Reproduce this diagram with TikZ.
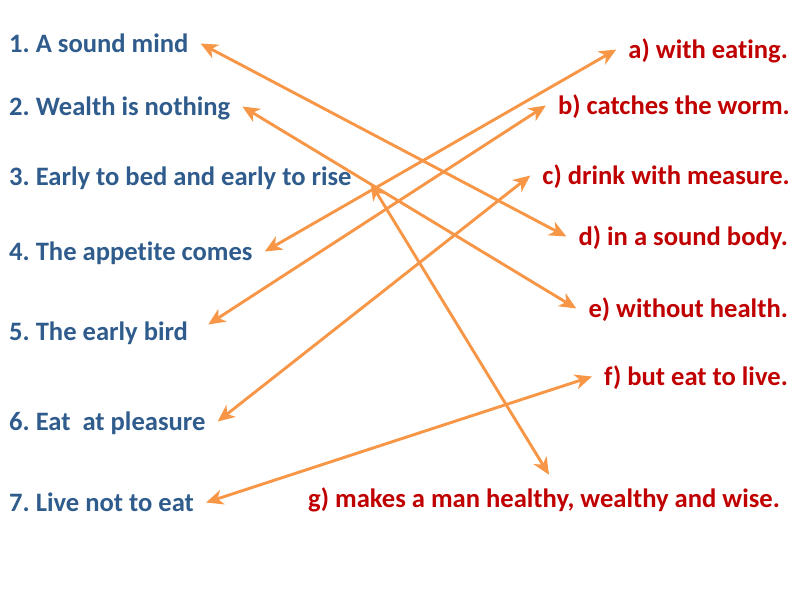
\documentclass[tikz,border=0pt]{standalone}
\usepackage{fontspec}
\setmainfont{Carlito}[Ligatures=NoCommon]
\usetikzlibrary{arrows.meta}
\definecolor{stemblue}{RGB}{47,92,140}
\definecolor{endred}{RGB}{192,0,0}
\definecolor{linkorange}{RGB}{247,150,70}
\frenchspacing

\begin{document}
\begin{tikzpicture}[x=1pt,y=-1pt,
  item/.style={font=\bfseries\fontsize{26.6}{30}\selectfont,inner xsep=12pt,
               inner ysep=0pt,text height=17pt,text depth=0pt},
  stem/.style={item,anchor=base west,text=stemblue},
  ending/.style={item,anchor=base east,text=endred},
  link/.style={draw=linkorange,line width=2.9pt,
               {Stealth[length=17pt,width=15pt,inset=5pt]}-{Stealth[length=17pt,width=15pt,inset=5pt]}}]

\useasboundingbox (0,0) rectangle (800,600);

% ------------- beginnings -------------
\node[stem] (l1) at (-3,52)  {1. A sound mind};
\node[stem] (l2) at (-3,115) {2. Wealth is nothing};
\node[stem] (l3) at (-3,185) {3. Early to bed and early to rise};
\node[stem] (l4) at (-3,260) {4. The appetite comes};
\node[stem] (l5) at (-3,340) {5. The early bird};
\node[stem] (l6) at (-3,430) {6. Eat\ \ at pleasure};
\node[stem] (l7) at (-3,511) {7. Live not to eat};

% ------------- endings -------------
\node[ending] (ra) at (800,58)  {a) with eating.};
\node[ending] (rb) at (802,114) {b) catches the worm.};
\node[ending] (rc) at (802,184) {c) drink with measure.};
\node[ending] (rd) at (800,245) {d) in a sound body.};
\node[ending] (re) at (800,317) {e) without health.};
\node[ending] (rf) at (800,385) {f) but eat to live.};
\node[ending] (rg) at (792,507) {g) makes a man healthy, wealthy and wise.};

% ------------- matches -------------
\draw[link] (l1.east) -- (rd.west);
\draw[link] (l2.east) -- (re.west);
\draw[link] ([shift={(7pt,2pt)}]l3.base east) -- ([shift={(5pt,15pt)}]rg.north);
\draw[link] (l4.east) -- (ra.west);
\draw[link] ([shift={(8pt,7pt)}]l5.east) -- (rb.west);
\draw[link] (l6.east) -- (rc.west);
\draw[link] (l7.east) -- (rf.west);

\end{tikzpicture}
\end{document}
